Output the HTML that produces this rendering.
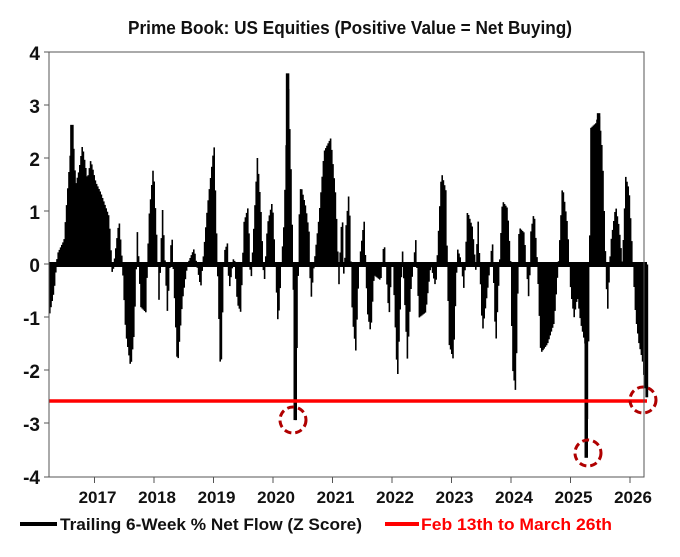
<!DOCTYPE html>
<html><head><meta charset="utf-8"><style>
body{margin:0;background:#fff;width:680px;height:552px;overflow:hidden}
text{font-family:"Liberation Sans Narrow","Liberation Sans",sans-serif;font-weight:bold}
</style></head><body>
<svg id="s" width="680" height="552" xmlns="http://www.w3.org/2000/svg">
<text x="128" y="34" font-size="18" textLength="444" lengthAdjust="spacingAndGlyphs" fill="#111">Prime Book: US Equities (Positive Value = Net Buying)</text>
<g font-size="19" text-anchor="end" fill="#111">
<text x="40" y="60">4</text><text x="40" y="113">3</text><text x="40" y="166">2</text><text x="40" y="219">1</text><text x="40" y="272">0</text><text x="40" y="325">-1</text><text x="40" y="378">-2</text><text x="40" y="431">-3</text><text x="40" y="484">-4</text>
</g>
<g id="bars" fill="#000"></g>
<rect x="49" y="262" width="598" height="5" fill="#000"/>
<line x1="49" y1="401" x2="647" y2="401" stroke="#f00" stroke-width="3.5"/>
<g fill="none" stroke="#b00000" stroke-width="3" stroke-dasharray="7,4">
<circle cx="293" cy="420" r="13"/><circle cx="588" cy="453" r="13"/><circle cx="643" cy="400" r="13"/>
</g>
<g stroke="#555" stroke-width="1" fill="none">
<path d="M49,52 H644 V477 H49 Z"/>
</g>
<g id="ticks" stroke="#555" stroke-width="1"></g>
<g font-size="17" text-anchor="middle" fill="#111" id="xl"></g>
<line x1="20" y1="524" x2="57" y2="524" stroke="#000" stroke-width="4"/>
<text x="60" y="530" font-size="17" textLength="302" lengthAdjust="spacingAndGlyphs" fill="#111">Trailing 6-Week % Net Flow (Z Score)</text>
<line x1="385" y1="524" x2="419" y2="524" stroke="#f00" stroke-width="4"/>
<text x="421" y="530" font-size="17" textLength="191" lengthAdjust="spacingAndGlyphs" fill="#f00">Feb 13th to March 26th</text>
</svg>
<script>
var A=[[27,-.92],[40,-.5],[50,.2],[70,.46],[80,1.35],[95,2.63],[105,1.5],[115,1.78],[125,2.25],[140,1.6],[150,1.97],[165,1.55],[180,1.35],[195,1.08],[205,.9],[215,-.23],[235,.84],[245,0],[255,-1.29],[270,-1.95],[280,-1.3],[290,.65],[300,-.8],[315,-.9],[325,.9],[338,1.87],[350,.2],[355,-.74],[365,1.08],[380,-.9],[393,.65],[410,-1.95],[425,-.67],[440,0],[460,.3],[480,-.44],[500,1.08],[520,2.25],[530,0],[540,-2.23],[550,.23],[560,.4],[565,-.5],[580,.2],[590,-.74],[600,-.9],[610,.8],[622,1.08],[630,-.44],[650,2.03],[660,1.08],[670,-.44],[680,.75],[695,1.2],[712,-1.17],[722,0],[730,.8],[742,3.6],[752,1.5],[765,-2.93],[775,.84],[780,1.5],[795,1.08],[805,.6],[810,-.74],[820,0],[835,.9],[850,2.13],[870,2.38],[885,1.27],[895,-.44],[905,.9],[915,.65]];
var B=[[0,.6],[10,-.44],[25,1.4],[35,-1],[45,-1.62],[55,0],[70,.84],[80,-.9],[90,-1.29],[100,-.2],[120,-.3],[130,.46],[145,-1],[155,.3],[170,-2.23],[185,.3],[200,-1.8],[210,-.5],[225,.46],[235,-1],[255,-.9],[270,0],[285,-.44],[295,.84],[302,1.74],[315,1.4],[325,-1.5],[338,-1.8],[350,.3],[360,.1],[370,-.5],[380,1],[395,.7],[405,-.1],[412,.84],[425,-1.29],[440,-.5],[455,.46],[465,-1.56],[485,1.2],[500,1.06],[510,0],[515,-1.93],[525,-2.42],[535,.7],[550,.6],[565,-.74],[570,.6],[580,1],[590,0],[600,-1.67],[620,-1.5],[640,-1.1],[655,.2],[665,1.5],[680,.75],[690,-.5],[700,-1],[710,-.6],[720,-1.1],[733,-1.5],[738,-3.64],[745,-.8],[750,2.57],[765,2.66],[775,2.85],[785,2.1],[795,0],[800,-.97],[810,.4],[825,1.1],[835,.7],[845,0],[855,1.65],[865,1.4],[875,.2],[885,-1],[895,-1.5],[905,-1.8],[915,-2.5],[922,-2.5]];
var P=[];A.forEach(function(a){P.push([40+a[0]/3,a[1]])});B.forEach(function(a){P.push([340+a[0]/3,a[1]])});
P.sort(function(a,b){return a[0]-b[0]});
var g=document.getElementById('bars'),h='';
var Y=function(v){return 264.5-v*53.1};
for(var x=49;x<647;x+=1.2){
 var i=0;while(i<P.length-2&&P[i+1][0]<x)i++;
 var a=P[i],b=P[i+1],t=Math.max(0,Math.min(1,(x-a[0])/(b[0]-a[0]||1)));
 var v=a[1]+(b[1]-a[1])*t;
 var y0=Y(0),y1=Y(v);
 h+='<rect x="'+x.toFixed(1)+'" y="'+Math.min(y0,y1).toFixed(1)+'" width="1.6" height="'+Math.abs(y1-y0).toFixed(1)+'"/>';
}
[[40+742/3,3.6],[40+765/3,-2.93],[340+738/3,-3.64],[340+775/3,2.85],[40+95/3,2.63]].forEach(function(s){var y1=Y(s[1]);h+='<rect x="'+(s[0]-1.5)+'" y="'+Math.min(264.5,y1)+'" width="3.5" height="'+Math.abs(y1-264.5)+'"/>'});
g.innerHTML=h;
var tk='',xl='';
for(var k=0;k<10;k++){var xx=94.5+k*59.5;tk+='<line x1="'+xx+'" y1="477" x2="'+xx+'" y2="483"/>';xl+='<text x="'+(xx+3)+'" y="503">'+(2017+k)+'</text>';}
[52,105,158,211,264,317,370,423,477].forEach(function(y){tk+='<line x1="44" y1="'+y+'" x2="49" y2="'+y+'"/>'});
document.getElementById('ticks').innerHTML=tk;document.getElementById('xl').innerHTML=xl;
</script>
</body></html>
